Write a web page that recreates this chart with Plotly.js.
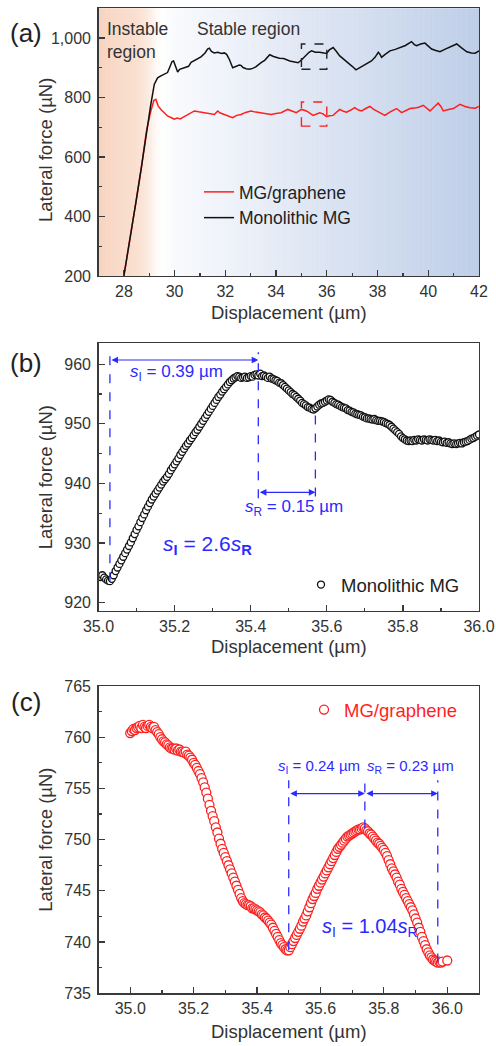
<!DOCTYPE html>
<html>
<head>
<meta charset="utf-8">
<script src="https://cdn.plot.ly/plotly-3.0.1.min.js"></script>
<style>html,body{margin:0;padding:0;background:#fff;}#plot{width:496px;height:1046px;}</style>
</head>
<body>
<div id="plot"></div>
<script>
// ---------- Panel (a): full scratch curves ----------
const aBlackX = [28.00,28.20,28.49,28.70,28.88,29.05,29.20,29.33,29.46,29.55,29.72,29.80,29.90,29.96,30.05,30.12,30.20,30.32,30.45,30.55,30.65,30.78,30.90,31.04,31.20,31.30,31.37,31.45,31.56,31.70,31.85,31.96,32.05,32.16,32.29,32.40,32.55,32.62,32.70,32.82,32.95,33.08,33.20,33.41,33.55,33.75,33.90,34.13,34.30,34.54,34.70,34.87,35.00,35.15,35.30,35.40,35.55,35.72,35.90,35.99,36.10,36.25,36.38,36.51,36.65,36.84,37.00,37.15,37.30,37.43,37.60,37.76,37.90,38.03,38.10,38.16,38.30,38.49,38.70,38.88,39.10,39.34,39.45,39.54,39.70,39.87,40.00,40.13,40.30,40.46,40.65,40.79,41.00,41.12,41.30,41.52,41.70,41.85,42.00];
const aBlackY = [200,300,456,570,682,770,845,866,873,876,884,900,921,923,900,886,895,898,901,905,918,925,932,937,950,963,966,955,950,952,948,950,945,928,900,903,909,908,901,897,895,898,903,917,925,944,938,932,931,923,920,917,926,940,952,957,952,952,950,948,960,968,955,940,930,918,905,893,900,907,915,923,935,952,945,935,945,957,962,968,975,988,978,974,980,983,972,963,958,954,962,968,975,980,968,954,950,949,957];
const aRedX = [28.00,28.20,28.49,28.70,28.88,29.05,29.18,29.26,29.35,29.46,29.55,29.72,29.85,29.99,30.10,30.22,30.38,30.55,30.78,30.95,31.17,31.35,31.57,31.70,31.80,31.96,32.10,32.29,32.45,32.62,32.80,33.01,33.20,33.41,33.60,33.80,34.00,34.20,34.46,34.54,34.80,35.00,35.20,35.46,35.60,35.72,35.85,35.99,36.10,36.25,36.40,36.51,36.65,36.78,36.95,37.10,37.25,37.37,37.55,37.70,37.85,37.96,38.15,38.29,38.50,38.75,38.95,39.10,39.28,39.54,39.65,39.80,39.95,40.07,40.25,40.39,40.50,40.59,40.80,40.99,41.25,41.45,41.65,41.85,42.00];
const aRedY = [200,300,456,570,682,750,790,794,772,760,752,738,733,727,731,728,736,745,755,752,749,745,743,755,748,743,738,732,740,743,750,755,751,749,745,743,746,749,760,758,749,760,755,740,746,749,745,736,739,740,752,760,754,751,758,766,758,755,764,770,760,755,745,740,752,763,749,756,763,766,768,774,762,755,770,781,770,755,760,763,777,770,766,764,770];

// ---------- Panel (b): Monolithic MG, 35-36 um ----------
const bX = [35.000,35.005,35.010,35.015,35.020,35.025,35.030,35.035,35.040,35.045,
35.050,35.055,35.060,35.065,35.070,35.075,35.080,35.085,35.090,35.095,
35.100,35.105,35.110,35.115,35.120,35.125,35.130,35.135,35.140,35.145,
35.150,35.155,35.160,35.165,35.170,35.175,35.180,35.185,35.190,35.195,
35.200,35.205,35.210,35.215,35.220,35.225,35.230,35.235,35.240,35.245,
35.250,35.255,35.260,35.265,35.270,35.275,35.280,35.285,35.290,35.295,
35.300,35.305,35.310,35.315,35.320,35.325,35.330,35.335,35.340,35.345,
35.350,35.355,35.360,35.365,35.370,35.375,35.380,35.385,35.390,35.395,
35.400,35.405,35.410,35.415,35.420,35.425,35.430,35.435,35.440,35.445,
35.450,35.455,35.460,35.465,35.470,35.475,35.480,35.485,35.490,35.495,
35.500,35.505,35.510,35.515,35.520,35.525,35.530,35.535,35.540,35.545,
35.550,35.555,35.560,35.565,35.570,35.575,35.580,35.585,35.590,35.595,
35.600,35.605,35.610,35.615,35.620,35.625,35.630,35.635,35.640,35.645,
35.650,35.655,35.660,35.665,35.670,35.675,35.680,35.685,35.690,35.695,
35.700,35.705,35.710,35.715,35.720,35.725,35.730,35.735,35.740,35.745,
35.750,35.755,35.760,35.765,35.770,35.775,35.780,35.785,35.790,35.795,
35.800,35.805,35.810,35.815,35.820,35.825,35.830,35.835,35.840,35.845,
35.850,35.855,35.860,35.865,35.870,35.875,35.880,35.885,35.890,35.895,
35.900,35.905,35.910,35.915,35.920,35.925,35.930,35.935,35.940,35.945,
35.950,35.955,35.960,35.965,35.970,35.975,35.980,35.985,35.990,35.995,
36.000];
const bY = [924.5,924.3,924.6,924.2,923.9,923.7,923.6,924.0,924.6,925.3,
925.9,926.5,927.1,927.7,928.3,928.9,929.5,930.1,930.8,931.5,
932.2,932.8,933.5,934.2,934.8,935.5,936.1,936.7,937.3,937.8,
938.3,938.8,939.3,939.8,940.3,940.7,941.1,941.6,942.2,942.7,
943.2,943.7,944.2,944.8,945.3,945.8,946.3,946.7,947.2,947.6,
948.1,948.6,949.0,949.5,950.0,950.5,951.0,951.5,952.0,952.5,
953.0,953.5,954.0,954.5,954.9,955.4,955.8,956.2,956.6,957.0,
957.3,957.6,957.8,958.0,957.9,957.7,957.8,957.9,957.7,957.8,
958.0,957.9,958.2,958.3,958.1,958.4,958.0,958.1,957.9,957.7,
957.9,957.6,957.5,957.3,957.2,956.9,956.8,956.5,956.2,955.9,
955.6,955.3,955.0,954.8,954.5,954.2,953.9,953.5,953.3,953.1,
952.8,952.7,952.5,952.4,952.6,952.9,953.2,953.4,953.5,953.7,
953.9,954.1,954.0,953.7,953.5,953.3,953.2,953.0,952.8,952.7,
952.6,952.3,952.2,952.0,951.9,951.7,951.6,951.5,951.4,951.2,
951.1,950.9,950.9,950.8,950.7,950.8,950.6,950.5,950.5,950.4,
950.3,950.1,950.0,949.8,949.5,949.2,948.9,948.6,948.3,947.9,
947.6,947.4,947.2,947.1,947.2,947.1,947.3,947.2,947.4,947.3,
947.2,947.4,947.3,947.2,947.4,947.3,947.2,947.3,947.1,947.2,
947.0,946.9,947.0,946.8,946.9,946.7,946.6,946.7,946.6,946.7,
946.8,946.7,946.9,947.0,947.1,947.3,947.5,947.6,947.8,948.0,
948.2];

// ---------- Panel (c): MG/graphene, 35-36 um ----------
const cX = [35.000,35.005,35.010,35.015,35.020,35.025,35.030,35.035,35.040,35.045,
35.050,35.055,35.060,35.065,35.070,35.075,35.080,35.085,35.090,35.095,
35.100,35.105,35.110,35.115,35.120,35.125,35.130,35.135,35.140,35.145,
35.150,35.155,35.160,35.165,35.170,35.175,35.180,35.185,35.190,35.195,
35.200,35.205,35.210,35.215,35.220,35.225,35.230,35.235,35.240,35.245,
35.250,35.255,35.260,35.265,35.270,35.275,35.280,35.285,35.290,35.295,
35.300,35.305,35.310,35.315,35.320,35.325,35.330,35.335,35.340,35.345,
35.350,35.355,35.360,35.365,35.370,35.375,35.380,35.385,35.390,35.395,
35.400,35.405,35.410,35.415,35.420,35.425,35.430,35.435,35.440,35.445,
35.450,35.455,35.460,35.465,35.470,35.475,35.480,35.485,35.490,35.495,
35.500,35.505,35.510,35.515,35.520,35.525,35.530,35.535,35.540,35.545,
35.550,35.555,35.560,35.565,35.570,35.575,35.580,35.585,35.590,35.595,
35.600,35.605,35.610,35.615,35.620,35.625,35.630,35.635,35.640,35.645,
35.650,35.655,35.660,35.665,35.670,35.675,35.680,35.685,35.690,35.695,
35.700,35.705,35.710,35.715,35.720,35.725,35.730,35.735,35.740,35.745,
35.750,35.755,35.760,35.765,35.770,35.775,35.780,35.785,35.790,35.795,
35.800,35.805,35.810,35.815,35.820,35.825,35.830,35.835,35.840,35.845,
35.850,35.855,35.860,35.865,35.870,35.875,35.880,35.885,35.890,35.895,
35.900,35.905,35.910,35.915,35.920,35.925,35.930,35.935,35.940,35.945,
35.950,35.955,35.960,35.965,35.970,35.975,35.980,35.985,
36.000];
const cY = [760.4,760.6,760.8,760.7,760.9,761.0,761.1,760.9,761.2,761.0,
760.9,761.1,761.2,761.0,760.9,761.0,760.7,760.5,760.3,760.0,
759.8,759.6,759.5,759.3,759.2,759.0,758.9,758.9,758.8,758.9,
758.7,758.8,758.6,758.6,758.5,758.6,758.3,758.2,758.0,757.8,
757.5,757.3,757.0,756.7,756.4,756.0,755.6,755.1,754.6,754.0,
753.4,752.8,752.3,751.8,751.2,750.7,750.1,749.6,749.1,748.7,
748.3,747.9,747.5,747.1,746.7,746.3,745.9,745.5,745.1,744.7,
744.3,744.0,743.8,743.7,743.6,743.6,743.5,743.3,743.3,743.2,
743.1,743.0,742.9,742.7,742.6,742.4,742.3,742.1,741.9,741.7,
741.4,741.1,740.8,740.5,740.2,739.9,739.7,739.5,739.3,739.2,
739.2,739.5,739.8,740.1,740.4,740.7,741.0,741.3,741.6,742.0,
742.3,742.6,743.0,743.4,743.8,744.2,744.5,744.8,745.2,745.5,
745.8,746.1,746.4,746.7,747.0,747.3,747.6,747.9,748.2,748.5,
748.8,749.1,749.3,749.5,749.7,749.9,750.1,750.3,750.4,750.5,
750.6,750.7,750.8,750.9,751.0,751.0,751.1,751.2,751.1,750.9,
750.8,750.6,750.5,750.3,750.1,749.9,749.7,749.6,749.4,749.2,
749.0,748.7,748.4,748.0,747.6,747.2,746.9,746.6,746.3,745.9,
745.6,745.2,744.9,744.6,744.3,744.0,743.7,743.4,743.1,742.7,
742.3,741.9,741.4,741.0,740.5,740.1,739.7,739.3,739.0,738.7,
738.5,738.3,738.2,738.1,738.0,738.1,738.0,738.1,
738.2];

// ---------- Annotation values ----------
const zoomWindowX = [35.0, 36.0];
const zoomBoxBlackY = [895, 980];
const zoomBoxRedY = [704, 785];
const bMarks = [35.03, 35.42, 35.57];          // s_I start, peak, s_R end
const bMarkBottoms = [923.6, 937.5, 937.8];
const bMarkTops = [962.0, 962.0, 952.5];
const bArrowY = [960.7, 938.5];
const cMarks = [35.50, 35.74, 35.97];
const cMarkBottoms = [739.2, 751.1, 738.0];
const cMarkTop = 755.8;
const cArrowY = 754.5;

// ---------- Styling ----------
const W = 496, H = 1046;
const FONT = 'Liberation Sans, Arial, sans-serif';
const TXT = '#333333';
const AX = '#3a3a3a';
const BLUE = '#2a2aff';
const RED = '#ff1f1f';
const xDom = [98.5 / W, 479 / W];
const yDomA = [1 - 276 / H, 1 - 8.3 / H];
const yDomB = [1 - 611 / H, 1 - 343.3 / H];
const yDomC = [1 - 993.3 / H, 1 - 686 / H];

function minorTicks(dt, t0) {
  return {ticks: 'inside', ticklen: 3.5, tickwidth: 1.2, tickcolor: AX, dtick: dt, tick0: t0, showgrid: false};
}
function axis(extra) {
  return Object.assign({
    showline: true, mirror: true, linecolor: AX, linewidth: 1.3,
    ticks: 'inside', ticklen: 6, tickwidth: 1.2, tickcolor: AX,
    showgrid: false, zeroline: false,
    tickfont: {size: 16, color: TXT, family: FONT},
    ticklabelstandoff: 3
  }, extra);
}
const TITLE_FONT = {size: 18.5, color: TXT, family: FONT};
function xTitle(so) { return {text: 'Displacement (µm)', font: TITLE_FONT, standoff: so}; }
function yTitle(so) { return {text: 'Lateral force (µN)', font: TITLE_FONT, standoff: so}; }

// background gradient for panel (a)
const bgStops = [
  [27.0, [247, 212, 192]],
  [28.6, [250, 225, 210]],
  [29.0, [252, 236, 226]],
  [29.3, [254, 250, 247]],
  [29.5, [255, 255, 255]],
  [30.0, [249, 250, 253]],
  [42.0, [190, 206, 232]]
];
function bgColor(x) {
  for (let i = 0; i < bgStops.length - 1; i++) {
    const [x0, c0] = bgStops[i], [x1, c1] = bgStops[i + 1];
    if (x >= x0 && x <= x1) {
      const t = (x - x0) / (x1 - x0);
      const c = c0.map((v, k) => Math.round(v + (c1[k] - v) * t));
      return `rgb(${c[0]},${c[1]},${c[2]})`;
    }
  }
  return 'rgb(255,255,255)';
}
const shapes = [];
const nStrips = 150;
for (let i = 0; i < nStrips; i++) {
  const x0 = 27 + i * 15 / nStrips, x1 = x0 + 15 / nStrips;
  shapes.push({type: 'rect', xref: 'x', yref: 'y domain', x0: x0, x1: Math.min(42, x1 + 0.02), y0: 0, y1: 1,
    fillcolor: bgColor((x0 + x1) / 2), line: {width: 0}, layer: 'below'});
}
// dashed zoom windows in (a)
shapes.push({type: 'rect', xref: 'x', yref: 'y', x0: zoomWindowX[0], x1: zoomWindowX[1], y0: zoomBoxBlackY[0], y1: zoomBoxBlackY[1],
  line: {color: '#222', width: 1.4, dash: 'dash'}});
shapes.push({type: 'rect', xref: 'x', yref: 'y', x0: zoomWindowX[0], x1: zoomWindowX[1], y0: zoomBoxRedY[0], y1: zoomBoxRedY[1],
  line: {color: RED, width: 1.4, dash: 'dash'}});
// dashed marker lines (b), (c)
bMarks.forEach((x, i) => shapes.push({type: 'line', xref: 'x2', yref: 'y2', x0: x, x1: x, y0: bMarkBottoms[i], y1: bMarkTops[i],
  line: {color: BLUE, width: 1.3, dash: 'dash'}}));
cMarks.forEach((x, i) => shapes.push({type: 'line', xref: 'x3', yref: 'y3', x0: x, x1: x, y0: cMarkBottoms[i], y1: cMarkTop,
  line: {color: BLUE, width: 1.3, dash: 'dash'}}));

function dblArrow(xr, yr, xFrom, xTo, y) {
  return {xref: xr, yref: yr, axref: xr, ayref: yr, x: xTo, y: y, ax: xFrom, ay: y, text: '',
    showarrow: true, arrowside: 'end+start', arrowhead: 2, arrowsize: 1.1, arrowwidth: 1.2, arrowcolor: BLUE, standoff: 0, startstandoff: 0};
}
function label(xr, yr, x, y, text, size, color, xanchor) {
  return {xref: xr, yref: yr, x: x, y: y, text: text, showarrow: false, xanchor: xanchor || 'center', yanchor: 'middle',
    font: {size: size, color: color || BLUE, family: FONT}};
}
const sI = '<i>s</i><sub>I</sub>', sR = '<i>s</i><sub>R</sub>';
const annotations = [
  label('paper', 'paper', 26 / W, 1 - 33 / H, '(a)', 26, '#222'),
  label('paper', 'paper', 26 / W, 1 - 363 / H, '(b)', 26, '#222'),
  label('paper', 'paper', 26 / W, 1 - 702 / H, '(c)', 26, '#222'),
  // y title of panel (a), placed as in the reference (flush with the "1,000" label)
  {xref: 'paper', yref: 'paper', x: 45 / W, y: 1 - 150 / H, xanchor: 'center', yanchor: 'middle', textangle: -90, showarrow: false,
    text: 'Lateral force (µN)', font: TITLE_FONT},
  {xref: 'paper', yref: 'paper', x: 105 / W, y: 1 - 41 / H, xanchor: 'left', yanchor: 'middle', align: 'left', showarrow: false,
    text: 'Instable<br>region', font: {size: 17.5, color: TXT, family: FONT}},
  {xref: 'paper', yref: 'paper', x: 195 / W, y: 1 - 29.5 / H, xanchor: 'left', yanchor: 'middle', showarrow: false,
    text: 'Stable region', font: {size: 17.5, color: TXT, family: FONT}},
  dblArrow('x2', 'y2', bMarks[0], bMarks[1], bArrowY[0]),
  dblArrow('x2', 'y2', bMarks[1], bMarks[2], bArrowY[1]),
  label('x2', 'y2', 35.077, 958.6, sI + ' = 0.39 µm', 17, BLUE, 'left'),
  label('x2', 'y2', 35.379, 935.9, sR + ' = 0.15 µm', 17, BLUE, 'left'),
  label('x2', 'y2', 35.165, 929.7, '<i>s</i><sub><b>I</b></sub> = 2.6<i>s</i><sub><b>R</b></sub>', 21, BLUE, 'left'),
  dblArrow('x3', 'y3', cMarks[0], cMarks[1], cArrowY),
  dblArrow('x3', 'y3', cMarks[1], cMarks[2], cArrowY),
  label('x3', 'y3', 35.460, 757.1, sI + ' = 0.24 µm', 15, BLUE, 'left'),
  label('x3', 'y3', 36.026, 757.1, sR + ' = 0.23 µm', 15, BLUE, 'right'),
  label('x3', 'y3', 35.599, 741.4, sI + ' = 1.04' + sR, 20, BLUE, 'left')
];

const traces = [
  {x: aRedX, y: aRedY, xaxis: 'x', yaxis: 'y', type: 'scatter', mode: 'lines', name: 'MG/graphene',
    line: {color: RED, width: 1.5}, legend: 'legend'},
  {x: aBlackX, y: aBlackY, xaxis: 'x', yaxis: 'y', type: 'scatter', mode: 'lines', name: 'Monolithic MG',
    line: {color: '#111', width: 1.5}, legend: 'legend'},
  {x: bX, y: bY, xaxis: 'x2', yaxis: 'y2', type: 'scatter', mode: 'markers', name: 'Monolithic MG',
    marker: {symbol: 'circle', size: 7, color: '#ffffff', line: {color: '#111', width: 1.3}}, legend: 'legend2'},
  {x: cX, y: cY, xaxis: 'x3', yaxis: 'y3', type: 'scatter', mode: 'markers', name: 'MG/graphene',
    marker: {symbol: 'circle', size: 9, color: '#ffffff', line: {color: RED, width: 1.3}}, legend: 'legend3'}
];

const legendBase = {bgcolor: 'rgba(0,0,0,0)', borderwidth: 0, tracegroupgap: 0, xanchor: 'left', yanchor: 'top', itemclick: false};
const layout = {
  width: W, height: H,
  margin: {l: 0, r: 0, t: 0, b: 0},
  paper_bgcolor: '#ffffff', plot_bgcolor: '#ffffff',
  font: {family: FONT, color: TXT},
  showlegend: true,
  xaxis: axis({domain: xDom, anchor: 'y', range: [27, 42], dtick: 2, tick0: 28, ticklabelstandoff: 0, minor: minorTicks(1, 27), title: xTitle(7)}),
  yaxis: axis({domain: yDomA, anchor: 'x', range: [200, 1100], dtick: 200, tick0: 200, tickformat: ',', minor: minorTicks(100, 200)}),
  xaxis2: axis({domain: xDom, anchor: 'y2', range: [35, 36], dtick: 0.2, tick0: 35, tickformat: '.1f', ticklabelstandoff: 0, minor: minorTicks(0.1, 35), title: xTitle(6)}),
  yaxis2: axis({domain: yDomB, anchor: 'x2', range: [918.6, 963.5], dtick: 10, tick0: 920, minor: minorTicks(5, 920), title: yTitle(6)}),
  xaxis3: axis({domain: xDom, anchor: 'y3', range: [34.9, 36.1], dtick: 0.2, tick0: 35, tickformat: '.1f', ticklabelstandoff: 0, minor: minorTicks(0.1, 35), title: xTitle(9)}),
  yaxis3: axis({domain: yDomC, anchor: 'x3', range: [735, 765], dtick: 5, tick0: 735, minor: minorTicks(2.5, 735), title: yTitle(6)}),
  legend: Object.assign({}, legendBase, {x: 199 / W, y: 1 - 174 / H, font: {size: 17.5, color: '#222', family: FONT}}),
  legend2: Object.assign({}, legendBase, {x: 301 / W, y: 1 - 566 / H, font: {size: 18.5, color: '#222', family: FONT}}),
  legend3: Object.assign({}, legendBase, {x: 304 / W, y: 1 - 691 / H, font: {size: 18.5, color: RED, family: FONT}}),
  shapes: shapes,
  annotations: annotations
};

Plotly.newPlot('plot', traces, layout, {displayModeBar: false, staticPlot: true});
</script>
</body>
</html>
